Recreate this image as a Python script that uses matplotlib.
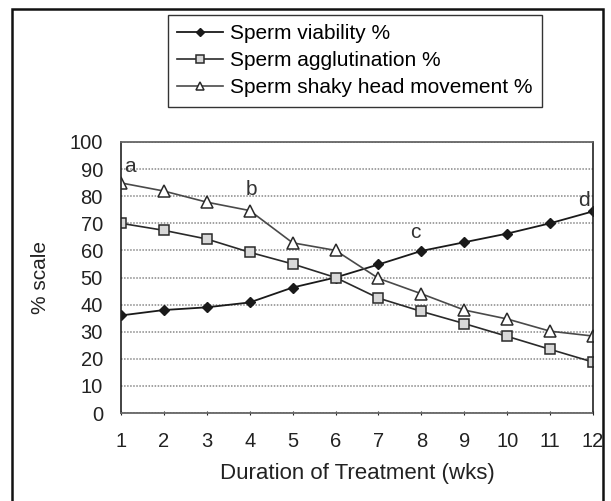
import matplotlib.pyplot as plt
from matplotlib.patches import Rectangle

plt.rcParams['font.family'] = ['Liberation Sans', 'DejaVu Sans']

# Daten
weeks = [1, 2, 3, 4, 5, 6, 7, 8, 9, 10, 11, 12]
viability = [36, 38, 39, 40.8, 46.3, 50, 54.8, 59.8, 63, 66.2, 70, 74.4]
agglutination = [70, 67.4, 64.2, 59.3, 55, 50, 42.4, 37.5, 33, 28.3, 23.5, 18.8]
shaky_head = [84.9, 81.9, 77.8, 74.7, 62.8, 60, 49.7, 44, 38, 34.7, 30.2, 28.4]
letters = ['a', 'b', 'c', 'd']
letter_x = [1.2, 4.05, 7.85, 11.8]
letter_y = [91, 82.5, 66.5, 78.5]

fig = plt.figure(figsize=(6.11, 5.01), dpi=100)
ax = fig.add_axes([0.198, 0.1756, 0.7725, 0.541])

l1, = ax.plot(weeks, viability, color='#1a1a1a', lw=1.3, marker='D', ms=5.5,
              mfc='#1a1a1a', mec='#1a1a1a', label='Sperm viability %')
l2, = ax.plot(weeks, agglutination, color='#2a2a2a', lw=1.2, marker='s', ms=7,
              mfc='#d8d8d8', mec='#2a2a2a', mew=1.1, label='Sperm agglutination %')
l3, = ax.plot(weeks, shaky_head, color='#4a4a4a', lw=1.2, marker='^', ms=8.5,
              mfc='white', mec='#2a2a2a', mew=1.1, label='Sperm shaky head movement %')

for t, x, y in zip(letters, letter_x, letter_y):
    ax.text(x, y, t, fontsize=15, color='#333333', ha='center', va='center')

ax.set_xlim(1, 12)
ax.set_ylim(0, 100)
ax.set_xticks(weeks)
ax.set_yticks(range(0, 101, 10))
ax.tick_params(axis='both', labelsize=14.5, colors='#222222')
ax.tick_params(axis='y', length=0, pad=13)
ax.tick_params(axis='x', length=3, direction='inout', pad=12)
ax.grid(axis='y', color='#888888', linestyle=(0, (1, 1)), lw=1.1)
ax.set_axisbelow(True)
for s in ['left', 'right']:
    ax.spines[s].set_color('#222222')
    ax.spines[s].set_linewidth(1.2)
for s in ['top', 'bottom']:
    ax.spines[s].set_color('#666666')
    ax.spines[s].set_linestyle((0, (1, 1)))
    ax.spines[s].set_linewidth(1.3)

ax.set_xlabel('Duration of Treatment (wks)', fontsize=16, labelpad=9,
              color='#222222')
ax.set_ylabel('% scale', fontsize=15, labelpad=14, color='#222222')

leg = fig.legend(handles=[l1, l2, l3], loc='upper left',
                 bbox_to_anchor=(168 / 611, 1 - 15 / 501), fontsize=15,
                 handlelength=2.2, handletextpad=0.35, labelspacing=0.38,
                 borderpad=0.45, borderaxespad=0, fancybox=False, framealpha=1,
                 edgecolor='#333333', markerscale=0.75)
leg.get_frame().set_linewidth(1.0)

# Rahmen um die ganze Abbildung
fig.patches.append(Rectangle((12 / 611, -0.01), 591 / 611, 1 - 9 / 501 + 0.01,
                             transform=fig.transFigure, fill=False,
                             edgecolor='#111111', lw=1.8))

fig.savefig('out.png', dpi=100)
